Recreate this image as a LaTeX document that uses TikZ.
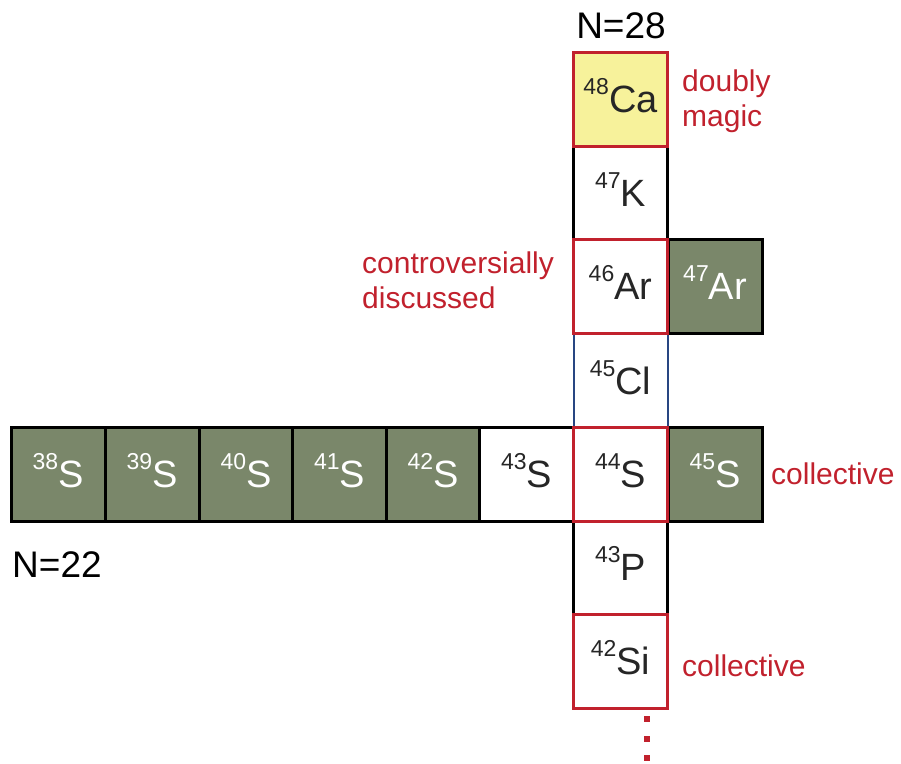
\documentclass[tikz,border=0pt]{standalone}
\usepackage{fontspec}
\setmainfont{Liberation Sans}
\definecolor{nred}{RGB}{193,33,45}
\definecolor{ngreen}{RGB}{122,135,106}
\definecolor{nyellow}{RGB}{247,242,155}
\definecolor{nblue}{RGB}{40,70,130}
\newcommand{\iso}[2]{\raisebox{0.47em}[0pt][0pt]{\fontsize{23}{23}\selectfont #1}#2}
\begin{document}
\begin{tikzpicture}[x=1pt,y=-1pt,
  nuc/.style={rectangle,minimum width=94pt,minimum height=94pt,inner sep=0pt,line width=3pt,
    font=\fontsize{38}{38}\selectfont,text depth=0pt},
  gbox/.style={nuc,draw=black,fill=ngreen,text=white},
  wbox/.style={nuc,draw=black,fill=white,text=black!85},
  rbox/.style={nuc,draw=nred,fill=white,text=black!85},
  bbox/.style={nuc,draw=nblue,line width=2pt,fill=white,text=black!85},
  lab/.style={text=nred,font=\fontsize{30}{35}\selectfont,align=left,inner sep=0pt},
  nlab/.style={font=\fontsize{37}{37}\selectfont,inner sep=0pt},
  dotsq/.style={fill=nred,minimum size=6pt,inner sep=0pt}]
\useasboundingbox (0,0) rectangle (901,763);
% horizontal row
\node[gbox] (s38) at (58,474.5) {\iso{38}{S}};
\node[gbox] (s39) at (152,474.5) {\iso{39}{S}};
\node[gbox] (s40) at (246,474.5) {\iso{40}{S}};
\node[gbox] (s41) at (339.5,474.5) {\iso{41}{S}};
\node[gbox] (s42) at (433,474.5) {\iso{42}{S}};
\node[wbox] (s43) at (526.5,474.5) {\iso{43}{S}};
\node[gbox] (s45) at (715,474.5) {\iso{45}{S}};
\node[gbox] (ar47) at (715,286.5) {\iso{47}{Ar}};
% column
\node[wbox] (k47) at (620.5,193) {\iso{47}{K}};
\node[wbox] (p43) at (620.5,567.5) {\iso{43}{P}};
\node[bbox] (cl45) at (620.5,380.5) {\iso{45}{Cl}};
\node[rbox,fill=nyellow] (ca48) at (620.5,99) {\iso{48}{Ca}};
\node[rbox] (ar46) at (620.5,286.5) {\iso{46}{Ar}};
\node[rbox] (s44) at (620.5,474.5) {\iso{44}{S}};
\node[rbox] (si42) at (620.5,661) {\iso{42}{Si}};
% labels
\node[nlab] (n28) at (621,26) {N=28};
\node[nlab,anchor=west] (n22) at (12,565) {N=22};
\node[lab,anchor=west] (ldm) at (682,101) {doubly\\magic};
\node[lab,anchor=west] (lcd) at (362,280) {controversially\\discussed};
\node[lab,anchor=west] (lc1) at (771,474) {collective};
\node[lab,anchor=west] (lc2) at (682,666) {collective};
% dots
\node[dotsq] (d1) at (647,719) {};
\node[dotsq] (d2) at (647,739) {};
\node[dotsq] (d3) at (647,758) {};
\end{tikzpicture}
\end{document}
